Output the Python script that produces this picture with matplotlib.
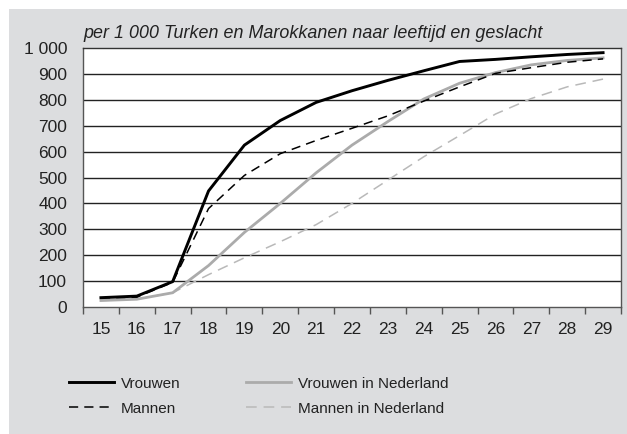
import matplotlib
matplotlib.use("Agg")
import matplotlib.pyplot as plt
from matplotlib.patches import Rectangle

plt.rcParams["font.family"] = ["Liberation Sans", "DejaVu Sans"]

ages = list(range(15, 30))
vrouwen = [36, 42, 98, 448, 625, 720, 790, 835, 875, 912, 948, 956, 966, 975, 982]
mannen = [35, 38, 95, 380, 508, 592, 643, 690, 738, 795, 850, 902, 924, 945, 958]
vrouwen_nl = [25, 30, 55, 160, 288, 400, 518, 625, 716, 803, 864, 905, 935, 952, 962]
mannen_nl = [25, 30, 55, 125, 190, 252, 318, 400, 490, 580, 662, 745, 805, 850, 880]
yticks = list(range(0, 1001, 100))
ytick_labels = [f"{v:,}".replace(",", " ") for v in yticks]
title = "per 1 000 Turken en Marokkanen naar leeftijd en geslacht"

W, H = 627, 434
fig = plt.figure(figsize=(W / 100, H / 100), dpi=100)
fig.patch.set_facecolor("white")
fig.patches.append(Rectangle((9 / W, 0), 1 - 9 / W, 1 - 9 / H, transform=fig.transFigure,
                             facecolor="#dcdddf", edgecolor="none", zorder=-10))

ax = fig.add_axes([83 / W, 1 - 307 / H, (621 - 83) / W, (307 - 48) / H])
ax.set_facecolor("white")
x = list(range(len(ages)))

ax.plot(x, mannen_nl, color="#b9b9b9", lw=1.1, dashes=(7, 4.5), label="Mannen in Nederland")
ax.plot(x, vrouwen_nl, color="#ababab", lw=2.0, label="Vrouwen in Nederland")
ax.plot(x, mannen, color="black", lw=1.1, dashes=(6, 4), label="Mannen")
ax.plot(x, vrouwen, color="black", lw=2.1, label="Vrouwen")

ax.set_xlim(-0.5, len(ages) - 0.5)
ax.set_ylim(0, 1000)
ax.set_yticks(yticks)
ax.set_yticklabels(ytick_labels, fontsize=12.5, color="#222222")
ax.tick_params(axis="y", length=0, pad=11.5)
ax.set_xticks(x)
ax.set_xticklabels([str(a) for a in ages], fontsize=12.5, color="#222222")
ax.tick_params(axis="x", length=0, pad=11)
ax.set_xticks([i + 0.5 for i in range(-1, len(ages))], minor=True)
ax.tick_params(axis="x", which="minor", length=5, width=1, color="#555555", direction="out")
for y in yticks[1:-1]:
    ax.axhline(y, color="#222222", lw=1.0, zorder=1)
for s in ("top", "right", "left", "bottom"):
    ax.spines[s].set_color("#555555")
    ax.spines[s].set_linewidth(1.0)
ax.spines["top"].set_color("#333333")

fig.text(83 / W, 1 - 33 / H, title, fontsize=12.9, style="italic", color="#222222", va="center")

h, l = ax.get_legend_handles_labels()
order = [3, 2, 1, 0]
fig.legend([h[i] for i in order], [l[i] for i in order], loc="upper left",
           bbox_to_anchor=(55 / W, 1 - 363 / H), ncol=2, frameon=False, fontsize=11,
           handlelength=2.95, handletextpad=0.45, columnspacing=4.3, labelspacing=0.72,
           labelcolor="#222222")

fig.savefig("out.png", dpi=100)
